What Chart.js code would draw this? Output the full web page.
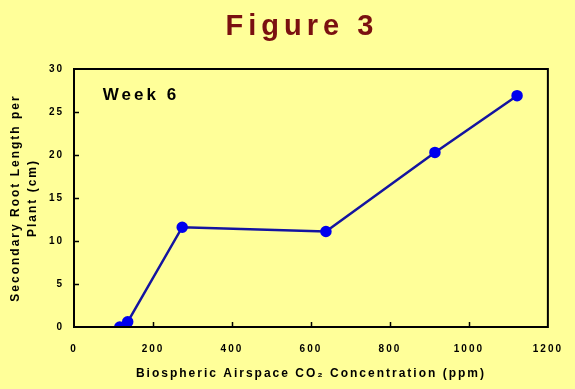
<!DOCTYPE html>
<html>
<head>
<meta charset="utf-8">
<script src="https://cdn.jsdelivr.net/npm/chart.js@4/dist/chart.umd.min.js"></script>
<style>
  html, body { margin: 0; padding: 0; background: #ffff99; }
  #wrap { width: 575px; height: 389px; position: relative; }
</style>
</head>
<body>
<div id="wrap"><canvas id="chart"></canvas></div>
<script>
// data
const co2Ppm = [116, 136, 274, 638, 914, 1122];
const rootLength = [0, 0.6, 11.6, 11.1, 20.3, 26.9];
const xTicks = [0, 200, 400, 600, 800, 1000, 1200];
const yTicks = [0, 5, 10, 15, 20, 25, 30];

const figTitle = 'Figure 3';
const weekLabel = 'Week 6';
const xTitle = 'Biospheric Airspace CO\u2082 Concentration (ppm)';
const yTitle = ['Secondary Root Length per', 'Plant (cm)'];

// title, note, frame and inside ticks
const extras = {
    id: 'extras',
    beforeDraw(chart) {
        chart.ctx.letterSpacing = '2px';
    },
    afterDraw(chart) {
        const ctx = chart.ctx;
        const a = chart.chartArea;
        const xs = chart.scales.x, ys = chart.scales.y;
        ctx.save();
        // inside tick marks
        ctx.strokeStyle = '#000';
        ctx.lineWidth = 1.5;
        ctx.beginPath();
        xTicks.slice(1, -1).forEach(v => {
            const px = Math.round(xs.getPixelForValue(v)) + 0.5;
            ctx.moveTo(px, a.bottom); ctx.lineTo(px, a.bottom - 5);
        });
        yTicks.slice(1, -1).forEach(v => {
            const py = Math.round(ys.getPixelForValue(v)) + 0.5;
            ctx.moveTo(a.left, py); ctx.lineTo(a.left + 5, py);
        });
        ctx.stroke();
        // frame
        ctx.lineWidth = 2;
        ctx.strokeRect(a.left, a.top, a.right - a.left, a.bottom - a.top);

        ctx.letterSpacing = '5px';
        ctx.fillStyle = '#7a1010';
        ctx.font = 'bold 29px "Liberation Sans", Arial, sans-serif';
        ctx.textAlign = 'center';
        ctx.textBaseline = 'alphabetic';
        ctx.fillText(figTitle, 302, 35);

        ctx.letterSpacing = '3px';
        ctx.fillStyle = '#000';
        ctx.font = 'bold 17px "Liberation Sans", Arial, sans-serif';
        ctx.textAlign = 'left';
        ctx.textBaseline = 'middle';
        ctx.fillText(weekLabel, xs.getPixelForValue(73), ys.getPixelForValue(26.9));
        ctx.restore();
    }
};

new Chart(document.getElementById('chart'), {
    type: 'line',
    data: {
        datasets: [{
            data: co2Ppm.map((x, i) => ({ x, y: rootLength[i] })),
            borderColor: '#1414a0',
            borderWidth: 2.5,
            pointBackgroundColor: '#0000ee',
            pointBorderColor: '#0000ee',
            pointRadius: 4.5,
            tension: 0
        }]
    },
    options: {
        responsive: true,
        maintainAspectRatio: false,
        animation: false,
        layout: { padding: { top: 69, right: 23, left: 0, bottom: 0 } },
        plugins: { legend: { display: false }, tooltip: { enabled: false } },
        scales: {
            x: {
                type: 'linear', min: 0, max: 1200,
                afterBuildTicks: s => { s.ticks = xTicks.map(v => ({ value: v })); },
                afterFit: s => { s.height = 62; },
                grid: { display: false, drawTicks: false },
                border: { display: false },
                ticks: {
                    color: '#000', padding: 16, maxRotation: 0,
                    callback: v => String(v),
                    font: { family: 'Liberation Sans', size: 10, weight: 'bold' }
                },
                title: {
                    display: true, text: xTitle, color: '#000',
                    padding: { top: 0, bottom: 8 },
                    font: { family: 'Liberation Sans', size: 12, weight: 'bold' }
                }
            },
            y: {
                type: 'linear', min: 0, max: 30,
                afterBuildTicks: s => { s.ticks = yTicks.map(v => ({ value: v })); },
                afterFit: s => { s.width = 74; },
                grid: { display: false, drawTicks: false },
                border: { display: false },
                ticks: {
                    color: '#000', padding: 10,
                    callback: v => String(v),
                    font: { family: 'Liberation Sans', size: 10, weight: 'bold' }
                },
                title: {
                    display: true, text: yTitle, color: '#000',
                    padding: { top: 7, bottom: 0 },
                    font: { family: 'Liberation Sans', size: 12, weight: 'bold', lineHeight: 1.45 }
                }
            }
        }
    },
    plugins: [extras]
});
</script>
</body>
</html>
